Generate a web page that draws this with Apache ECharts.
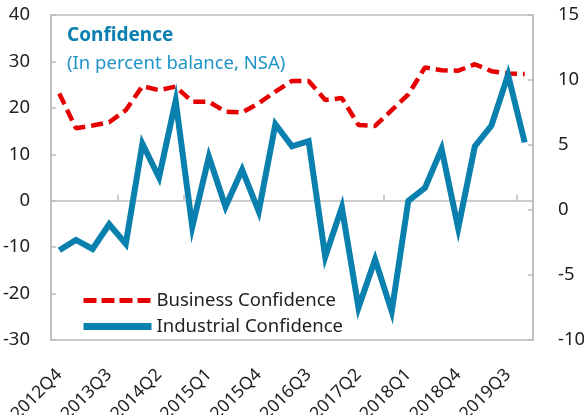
<!DOCTYPE html>
<html style="height: 100%">
<head>
    <meta charset="utf-8">
</head>
<body style="height: 100%; margin: 0">
<div id="container" style="width: 584px; height: 415px;"></div>

<script type="text/javascript" src="https://cdn.jsdelivr.net/npm/echarts@6/dist/echarts.min.js"></script>
<script type="text/javascript">
    // quarters 2012Q4 .. 2019Q4
    var quarters = ['2012Q4', '2013Q1', '2013Q2', '2013Q3', '2013Q4', '2014Q1', '2014Q2', '2014Q3', '2014Q4',
        '2015Q1', '2015Q2', '2015Q3', '2015Q4', '2016Q1', '2016Q2', '2016Q3', '2016Q4',
        '2017Q1', '2017Q2', '2017Q3', '2017Q4', '2018Q1', '2018Q2', '2018Q3', '2018Q4',
        '2019Q1', '2019Q2', '2019Q3', '2019Q4'];

    // left axis
    var businessConfidence = [23.1, 15.6, 16.2, 16.9, 19.5, 24.7, 23.8, 24.6, 21.3,
        21.3, 19.2, 19.0, 21.0, 23.5, 25.8, 25.8, 21.7,
        22.1, 16.3, 16.1, 19.5, 22.9, 28.7, 28.1, 28.0,
        29.4, 27.9, 27.4, 27.3];

    // right axis
    var industrialConfidence = [-3.1, -2.3, -3.0, -1.1, -2.6, 5.1, 2.5, 8.4, -1.3,
        4.1, 0.25, 3.1, -0.1, 6.6, 4.9, 5.3, -3.6,
        0.2, -7.5, -3.8, -7.8, 0.7, 1.7, 4.7, -1.4,
        4.9, 6.5, 10.4, 5.2];

    var leftTicks = { min: -30, max: 40, interval: 10 };
    var rightTicks = { min: -10, max: 15, interval: 5 };

    var font = 'Noto Sans';
    var gray = '#bdbdbd';
    var red = '#e60000';
    var blue = '#0a80ae';

    var dom = document.getElementById("container");
    var myChart = echarts.init(dom);

    var option = {
        animation: false,
        textStyle: { fontFamily: font },
        title: {
            text: 'Confidence',
            subtext: '(In percent balance, NSA)',
            left: 62,
            top: 21,
            itemGap: 9,
            textStyle: { fontFamily: font, fontSize: 19, fontWeight: 'bold', color: '#0b80b0' },
            subtextStyle: { fontFamily: font, fontSize: 18.5, color: '#2095c8' }
        },
        legend: {
            orient: 'vertical',
            left: 75,
            top: 286,
            itemWidth: 68,
            itemHeight: 14,
            itemGap: 7,
            itemStyle: { opacity: 0 },
            textStyle: { fontFamily: font, fontSize: 18.5, color: '#222' },
            data: [
                { name: 'Business Confidence', lineStyle: { width: 5, type: [13, 5] } },
                { name: 'Industrial Confidence', lineStyle: { width: 7 } }
            ]
        },
        grid: {
            left: 51,
            right: 51,
            top: 15,
            bottom: 75,
            outerBoundsMode: 'none',
            show: true,
            borderColor: gray,
            borderWidth: 1.5
        },
        xAxis: [{
            type: 'category',
            data: quarters,
            position: 'bottom',
            axisLine: { show: false, onZero: false },
            axisTick: { show: false },
            axisLabel: { rotate: 45, interval: 2, fontSize: 17.5, color: '#222', margin: 32 }
        }, {
            type: 'category',
            data: quarters,
            position: 'top',
            axisLine: { show: true, onZero: true, onZeroAxisIndex: 0, lineStyle: { color: gray, width: 1.5 } },
            axisTick: { show: true, interval: 3, length: 6, lineStyle: { color: gray, width: 1.5 } },
            axisLabel: { show: false }
        }],
        yAxis: [{
            type: 'value',
            position: 'left',
            min: leftTicks.min,
            max: leftTicks.max,
            interval: leftTicks.interval,
            splitLine: { show: false },
            axisLine: { show: true, lineStyle: { color: gray, width: 1.5 } },
            axisTick: { show: true, inside: true, length: 5, lineStyle: { color: gray, width: 1.5 } },
            axisLabel: { fontSize: 18.5, color: '#222', margin: 21 }
        }, {
            type: 'value',
            position: 'right',
            min: rightTicks.min,
            max: rightTicks.max,
            interval: rightTicks.interval,
            splitLine: { show: false },
            axisLine: { show: true, lineStyle: { color: gray, width: 1.5 } },
            axisTick: { show: true, inside: true, length: 5, lineStyle: { color: gray, width: 1.5 } },
            axisLabel: { fontSize: 18.5, color: '#222', margin: 25 }
        }],
        series: [{
            name: 'Business Confidence',
            type: 'line',
            xAxisIndex: 0,
            yAxisIndex: 0,
            data: businessConfidence,
            symbol: 'none',
            color: red,
            lineStyle: { color: red, width: 4.5, type: [12, 6] }
        }, {
            name: 'Industrial Confidence',
            type: 'line',
            xAxisIndex: 0,
            yAxisIndex: 1,
            data: industrialConfidence,
            symbol: 'none',
            color: blue,
            lineStyle: { color: blue, width: 6, join: 'miter', miterLimit: 20 }
        }]
    };

    myChart.setOption(option);
</script>
</body>
</html>
